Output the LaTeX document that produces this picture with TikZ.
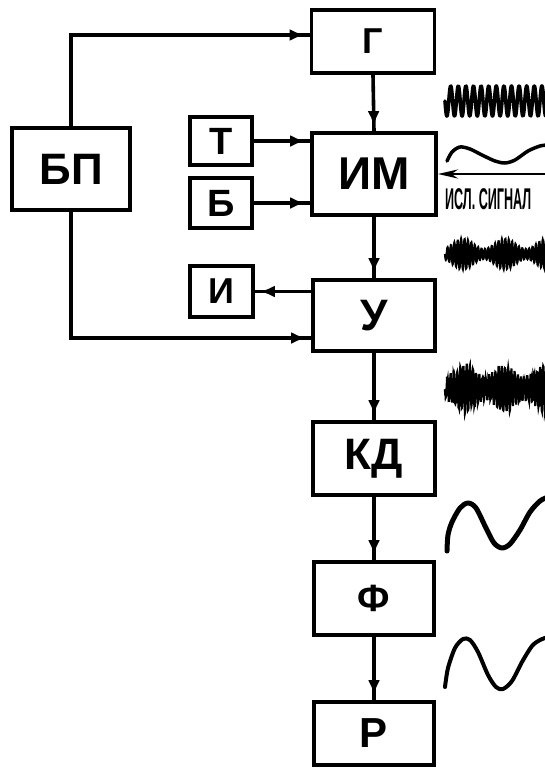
\documentclass[tikz,border=0pt]{standalone}
\usepackage{fontspec}
\setmainfont{Liberation Sans}
\usetikzlibrary{arrows.meta,decorations.markings}
\begin{document}
\begin{tikzpicture}[x=1pt,y=-1pt,
  blk/.style={draw, line width=3.8pt, inner sep=0pt},
  conn/.style={line width=3.6pt, postaction={decorate},
    decoration={markings, mark=at position -5pt with {\arrow{Latex[length=15pt,width=12pt]}}}},
  wave/.style={line width=3pt, line join=round, line cap=round}]
\useasboundingbox (0,0) rectangle (545,769);
\clip (0,0) rectangle (545,769);
% blocks
\node[blk, minimum width=123pt, minimum height=63pt, font=\bfseries\fontsize{36}{36}\selectfont] (G) at (373,41.5) {Г};
\node[blk, minimum width=124pt, minimum height=82pt, font=\bfseries\fontsize{46}{46}\selectfont] (IM) at (374,174) {ИМ};
\node[blk, minimum width=118pt, minimum height=82pt, font=\bfseries\fontsize{44}{44}\selectfont] (BP) at (71,169) {БП};
\node[blk, minimum width=62pt, minimum height=48pt, font=\bfseries\fontsize{38}{38}\selectfont] (T) at (221,141) {Т};
\node[blk, minimum width=62pt, minimum height=50pt, font=\bfseries\fontsize{38}{38}\selectfont] (B) at (221,203) {Б};
\node[blk, minimum width=63pt, minimum height=51pt, font=\bfseries\fontsize{36}{36}\selectfont] (I) at (221.5,291.5) {И};
\node[blk, minimum width=122pt, minimum height=71pt, font=\bfseries\fontsize{44}{44}\selectfont] (U) at (374,315.5) {У};
\node[blk, minimum width=122pt, minimum height=73pt, font=\bfseries\fontsize{44}{44}\selectfont] (KD) at (374,458.5) {КД};
\node[blk, minimum width=120pt, minimum height=73pt, font=\bfseries\fontsize{38}{38}\selectfont] (F) at (374,598.5) {Ф};
\node[blk, minimum width=120pt, minimum height=63pt, font=\bfseries\fontsize{42}{42}\selectfont] (R) at (374,733.5) {Р};
% connectors
\draw[conn] (BP.north) |- ([yshift=6.5pt]G.west);
\draw[conn] (BP.south) |- ([yshift=-22.5pt]U.west);
\draw[conn] (T.east) -- (T.east -| IM.west);
\draw[conn] (B.east) -- (B.east -| IM.west);
\draw[conn] (I.east -| U.west) -- (I.east);
\draw[conn] (G.south) -- (IM.north);
\draw[conn] (IM.south) -- (U.north);
\draw[conn] (U.south) -- (KD.north);
\draw[conn] (KD.south) -- (F.north);
\draw[conn] (F.south) -- (R.north);
% input signal arrow and label
\coordinate (sigin) at (548,174);
\draw[line width=2.8pt, -{Stealth[length=20pt,width=9pt]}] (sigin) -- (IM.east |- sigin);
\node[anchor=west, inner sep=0pt, xscale=0.42, font=\bfseries\fontsize{30}{30}\selectfont] (sig) at (445,199) {ИСЛ. СИГНАЛ};
% waveforms
\draw[wave, line width=3.6pt] plot[domain=0:104, samples=500] ({445+\x},{101 + 15*sin(\x/7.6*360)});
\draw[wave, line width=3.5pt] plot[smooth] coordinates {(447,161) (452,152) (460,147) (470,149) (482,155) (495,161) (505,163) (515,160) (528,151) (540,146) (548,145)};
\draw[line width=2.2pt] plot[domain=0:104, samples=600] ({445+\x},{254 + (10+5*cos((\x-18)/42*360))*sin(\x/3.4*360)});
\pgfmathsetseed{3}
\draw[line width=2.2pt] plot[domain=0:104, samples=600] ({445+\x},{388 + (16+6*cos((\x-20)/40*360))*sin(\x/3.2*360) + 3*rand});
\draw[wave, line width=5pt] plot[smooth] coordinates {(447,551) (448,535) (452,522) (460,508) (468,503) (476,508) (486,528) (494,543) (502,548) (510,544) (520,530) (530,512) (540,501) (548,497)};
\draw[wave, line width=4pt] plot[smooth] coordinates {(445,687) (448,668) (455,648) (463,639) (470,640) (478,652) (488,675) (496,687) (503,689) (512,681) (522,662) (532,646) (540,640) (548,637)};
\end{tikzpicture}
\end{document}
